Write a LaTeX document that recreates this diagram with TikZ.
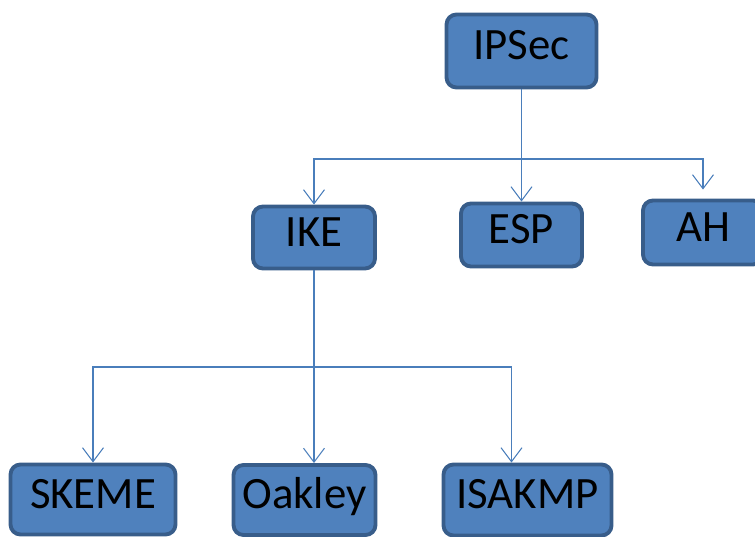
\documentclass[tikz,border=0pt]{standalone}
\usepackage{fontspec}
\setmainfont{Carlito}
\usepackage{tikz}
\usetikzlibrary{arrows.meta}
\usetikzlibrary{calc}
\usetikzlibrary{positioning}

\definecolor{boxfill}{HTML}{4F81BD}
\definecolor{boxline}{HTML}{385D8A}
\definecolor{linkblue}{HTML}{4A7EBB}

\tikzset{
  block/.style={draw=boxline, fill=boxfill, line width=2.2pt, rounded corners=0.2cm,
    inner sep=0pt, font=\fontsize{25.5}{30}\selectfont, text height=1.1em, text depth=0.11em},
  link/.style={draw=linkblue, line width=1.1pt,
    -{Straight Barb[length=0.28cm,width=0.42cm,line width=0.6pt]}}
}

\begin{document}
\begin{tikzpicture}[x=0.02cm, y=-0.02cm]
        \useasboundingbox (0,0) rectangle (755,537);
        \clip (0,0) rectangle (755,537);
        \node[block, minimum width=3cm, minimum height=1.46cm] (ipsec) at (521.5,51) {IPSec};
        \node[block, minimum width=2.44cm, minimum height=1.24cm] (ike) at (314,237.5) {IKE};
        \node[block, minimum width=2.42cm, minimum height=1.26cm] (esp) at (521.5,235) {ESP};
        \node[block, minimum width=2.4cm, minimum height=1.28cm] (ah) at (703,232.5) {AH};
        \node[block, minimum width=3.3cm, minimum height=1.4cm] (skeme) at (93,499.5) {SKEME};
        \node[block, minimum width=2.84cm, minimum height=1.4cm] (oakley) at (304.5,500) {Oakley};
        \node[block, minimum width=3.36cm, minimum height=1.42cm] (isakmp) at (527.5,500) {ISAKMP};
        % bus levels
        \coordinate (busA) at (0,159);
        \coordinate (busB) at (0,367);
        \draw[link] (ipsec.south) -- (ipsec.south |- esp.north);
        \draw[link] (ipsec.south |- busA) -| (ike.north);
        \draw[link, shorten >=0.18cm] (ipsec.south |- busA) -| (ah.north);
        \draw[link] (ike.south) -- (ike.south |- oakley.north);
        \draw[link] (ike.south |- busB) -| (skeme.north);
        \draw[link] (ike.south |- busB) -| ($(isakmp.north)+(-16,0)$);
    \end{tikzpicture}
\end{document}
